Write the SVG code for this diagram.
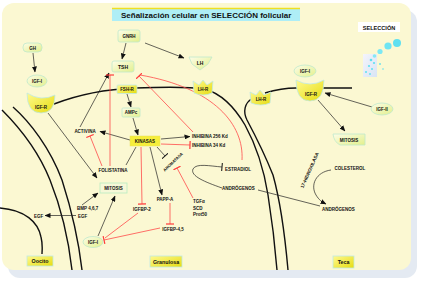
<svg xmlns="http://www.w3.org/2000/svg" width="423" height="285" viewBox="0 0 423 285">
<defs>
<linearGradient id="pale" x1="0" y1="0" x2="1" y2="1"><stop offset="0" stop-color="#fdfde8"/><stop offset="1" stop-color="#e2f08c"/></linearGradient>
<linearGradient id="yel" x1="0" y1="0" x2="1" y2="1"><stop offset="0" stop-color="#fffa90"/><stop offset="1" stop-color="#e6dc10"/></linearGradient>
<linearGradient id="selg" x1="0" y1="0" x2="1" y2="1"><stop offset="0" stop-color="#f4f4fc"/><stop offset="1" stop-color="#d8e4f4"/></linearGradient>
<marker id="arr" markerUnits="userSpaceOnUse" markerWidth="6" markerHeight="5" refX="5.5" refY="2.5" orient="auto"><path d="M0,0 L6,2.5 L0,5 Z" fill="#111"/></marker>
<marker id="tr" markerUnits="userSpaceOnUse" markerWidth="2" markerHeight="8" refX="1" refY="4" orient="auto"><path d="M1,0 L1,8" stroke="#ff3b3b" stroke-width="1.2"/></marker>
<marker id="tk" markerUnits="userSpaceOnUse" markerWidth="2" markerHeight="8" refX="1" refY="4" orient="auto"><path d="M1,0 L1,8" stroke="#111" stroke-width="1"/></marker>
</defs>
<style>
.t{font-family:"Liberation Sans",Arial,sans-serif;font-weight:bold;fill:#111;}
.s{font-size:4.5px;}
.m{text-anchor:middle;}
.pale{fill:url(#pale);stroke:#bfe8cc;stroke-width:0.8;}
.yel{fill:url(#yel);stroke:#bfe8e4;stroke-width:0.8;}
.mem{fill:none;stroke:#111;stroke-width:1.4;}
.k{fill:none;stroke:#222;stroke-width:0.7;}
.r{fill:none;stroke:#ff4a4a;stroke-width:0.8;}
</style>
<rect width="423" height="285" fill="#ffffff"/>
<rect x="8" y="10" width="409" height="268" rx="12" fill="#e4eaf2"/>
<rect x="2" y="3" width="409" height="267" rx="12" fill="#fbf8d2"/>

<!-- title -->
<g id="title">
<rect x="112" y="9" width="188" height="12" fill="#aeeef6"/>
<line x1="112" y1="8.5" x2="300" y2="8.5" stroke="#f0e020" stroke-width="1.4"/>
<text class="t" x="121" y="18.2" font-size="8">Señalización celular en SELECCIÓN folicular</text>
</g>
<g id="seleccion">
<rect x="358" y="22" width="42" height="10" fill="#ffffff"/>
<text class="t m" x="379" y="29.6" font-size="5.6">SELECCIÓN</text>
<rect x="363" y="54" width="14" height="23" fill="url(#selg)"/>
<circle cx="397" cy="43" r="4" fill="#5fe0f0"/>
<circle cx="388" cy="46" r="3.6" fill="#6ee4f2"/>
<circle cx="380" cy="51.5" r="2.6" fill="#7ce8f4"/>
<circle cx="374.5" cy="56" r="1.8" fill="#86e8f4"/>
<circle cx="371" cy="60" r="1.3" fill="#5fe0f0"/>
<circle cx="374" cy="63" r="1.1" fill="#5fe0f0"/>
<circle cx="369" cy="66" r="1.1" fill="#5fe0f0"/>
<circle cx="372" cy="69" r="1" fill="#5fe0f0"/>
<circle cx="366" cy="72" r="1" fill="#5fe0f0"/>
<circle cx="370" cy="74" r="0.9" fill="#5fe0f0"/>
<circle cx="380" cy="64" r="0.9" fill="#5fe0f0"/>
<circle cx="383" cy="69" r="0.8" fill="#5fe0f0"/>
</g>

<!-- membranes -->
<g id="membranes">
<path class="mem" d="M54,104 C80,94 110,89 135,88 C160,87 185,86 205,89 C222,94 235,108 245,125 C256,145 264,170 268,195 C272,220 275,245 277,270"/>
<path class="mem" d="M352,88 L296,88 C285,88 275,90 265,93 M253,98 C244,103 243,112 247,120 C255,135 265,155 273,175 C280,200 284,225 288,270"/>
<path class="mem" d="M2,110 C20,128 38,150 50,180 C60,205 68,235 72,270"/>
<path class="mem" d="M13,107 C30,122 50,148 62,180 C70,205 78,235 82,270"/>
<path class="mem" d="M0,208 C25,210 38,222 41,237 C43,245 42,250 42,254"/>
</g>

<!-- connectors -->
<g id="connectors">
<path class="k" d="M33,53 L35,72" marker-end="url(#arr)"/>
<path class="k" d="M126,43 L122,59" marker-end="url(#arr)"/>
<path class="k" d="M145,43 L184,58" marker-end="url(#arr)"/>
<path class="k" d="M80,127 L109,73" marker-end="url(#arr)"/>
<path class="k" d="M127,94 L131,107" marker-end="url(#arr)"/>
<path class="k" d="M133,118 L138,135" marker-end="url(#arr)"/>
<path class="k" d="M130,140 L100,131.5" marker-end="url(#arr)"/>
<path class="k" d="M161,139 L190,136.5" marker-end="url(#arr)"/>
<path class="k" d="M136,147 L126,165"/>
<path class="k" d="M157,147 L165,156" marker-end="url(#tk)"/>
<path class="k" d="M150,147 L162,195" marker-end="url(#arr)"/>
<path class="k" d="M48,113 L97,178" marker-end="url(#arr)"/>
<path class="k" d="M82,205 L98,193" marker-end="url(#arr)"/>
<path class="k" d="M76,215.5 L45,215.5" marker-end="url(#arr)"/>
<path class="k" d="M98,236 L115,196" marker-end="url(#arr)"/>
<path class="k" d="M222,188 C205,182 190,176 193,169 C196,163 210,166 222,167" marker-end="url(#tk)"/>
<path class="k" d="M320,206 L258,190"/>
<path class="k" d="M331,170 C316,172 310,185 316,195 C319,200 322,202 326,204" marker-end="url(#arr)"/>
<path class="k" d="M372,107 L325,93" marker-end="url(#arr)"/>
<path class="k" d="M318,100 L345,131" marker-end="url(#arr)"/>

<path class="r" d="M110,166 L110,75" marker-end="url(#tr)"/>
<path class="r" d="M193,132 L139,76" marker-end="url(#tr)"/>
<path class="r" d="M242,160 C244,125 215,88 140,75"/>
<path class="r" d="M102,166 L90,136" marker-end="url(#tr)"/>
<path class="r" d="M161,144 L190,145" marker-end="url(#tr)"/>
<path class="r" d="M141,147 L142,204" marker-end="url(#tr)"/>
<path class="r" d="M170,203 L170,224" marker-end="url(#tr)"/>
<path class="r" d="M160,228 L104,240" marker-end="url(#tr)"/>
<path class="r" d="M138,213 L105,238"/>
<path class="r" d="M193,198 L177,168" marker-end="url(#tr)"/>
</g>

<!-- nodes -->
<g id="gh"><rect class="pale" x="23" y="43" width="19" height="9" rx="4"/><text class="t s m" x="32.5" y="49.5">GH</text></g>
<g id="igf1-left"><ellipse class="pale" cx="37" cy="81" rx="10" ry="6"/><text class="t s m" x="37" y="82.7">IGF-I</text></g>
<g id="igfr-left"><path class="yel" d="M27,93 Q27,113 41,113 Q55,113 55,95 Q41,102 27,93 Z"/><text class="t s m" x="41" y="108.5">IGF-R</text></g>
<g id="gnrh"><rect class="pale" x="118" y="30" width="22" height="12" rx="2"/><text class="t s m" x="129" y="37.8">GNRH</text></g>
<g id="tsh"><rect class="pale" x="112" y="61" width="22" height="11" rx="2"/><text class="t m" x="123" y="68.5" font-size="5">TSH</text></g>
<g id="lh"><path class="pale" d="M189,57 L212,57 L208,64 L200,70 L192,64 Z"/><text class="t m" x="200" y="64.5" font-size="5">LH</text></g>
<g id="fshr"><rect class="yel" x="117" y="85" width="20" height="8.5" rx="1"/><text class="t s m" x="127" y="91">FSH-R</text></g>
<g id="lhr-gran"><path class="yel" d="M193,81 L199,85 L203,80 L207,85 L213,81 L212,93 Q203,97 194,93 Z"/><text class="t s m" x="203" y="91">LH-R</text></g>
<g id="ampc"><rect class="pale" x="122" y="108" width="18" height="9" rx="1"/><text class="t s m" x="131" y="114.3">AMPc</text></g>
<g id="activina"><text class="t s m" x="85" y="133">ACTIVINA</text></g>
<g id="kinasas"><rect x="130" y="136" width="30" height="10" fill="#f6ee3a" stroke="#e8e060" stroke-width="0.5"/><text class="t s m" x="145" y="142.8">KINASAS</text></g>
<g id="inhibina256"><text class="t s" x="192" y="138">INHIBINA 256 Kd</text></g>
<g id="inhibina34"><text class="t s" x="192" y="147">INHIBINA 34 Kd</text></g>
<g id="aromatasa"><text class="t m" font-size="4" transform="translate(174,163) rotate(-44)">AROMATASA</text></g>
<g id="estradiol"><text class="t s" x="225" y="170.5">ESTRADIOL</text></g>
<g id="androgenos-gran"><text class="t s" x="222" y="190">ANDRÓGENOS</text></g>
<g id="folistatina"><text class="t s m" x="113" y="172">FOLISTATINA</text></g>
<g id="mitosis-left"><rect x="100" y="183" width="27" height="10" fill="#f6f8d8" stroke="#b8ecc0" stroke-width="0.8"/><text class="t s m" x="113.5" y="190">MITOSIS</text></g>
<g id="bmp"><text class="t s" x="77" y="210">BMP 4,6,7</text><text class="t s" x="78" y="217.5">EGF</text></g>
<g id="egf"><text class="t s" x="34" y="217.5">EGF</text></g>
<g id="igfbp2"><text class="t s m" x="142" y="210.5">IGFBP-2</text></g>
<g id="pappa"><text class="t s m" x="165" y="201">PAPP-A</text></g>
<g id="igfbp45"><text class="t s m" x="173" y="230.5">IGFBP-4,5</text></g>
<g id="tgfa"><text class="t s" x="193" y="203">TGFα</text><text class="t s" x="193" y="209.5">SCD</text><text class="t s" x="193" y="216">Prot50</text></g>
<g id="igf1-bottom"><ellipse class="pale" cx="93" cy="242" rx="10" ry="5.5"/><text class="t s m" x="93" y="243.7">IGF-I</text></g>
<g id="oocito"><rect class="yel" x="27" y="256" width="26" height="10"/><text class="t m" x="40" y="263" font-size="5.3">Oocito</text></g>
<g id="granulosa"><rect class="yel" x="150" y="256" width="32" height="11"/><text class="t m" x="166" y="263.5" font-size="5.3">Granulosa</text></g>
<g id="teca"><rect class="yel" x="333" y="256" width="21" height="12"/><text class="t m" x="343.5" y="264" font-size="5.3">Teca</text></g>
<g id="lhr-teca"><path class="yel" d="M250,92 L256,95 L260,90 L264,95 L271,92 L270,103 Q261,107 251,103 Z"/><text class="t s m" x="261" y="101">LH-R</text></g>
<g id="igf1-right"><ellipse class="pale" cx="305" cy="71" rx="11" ry="6"/><text class="t s m" x="305" y="72.7">IGF-I</text></g>
<g id="igfr-right"><path class="yel" d="M296,80 Q296,101 310,101 Q324,101 324,80 Q310,88 296,80 Z"/><text class="t s m" x="311" y="95.5">IGF-R</text></g>
<g id="igf2"><ellipse class="pale" cx="382" cy="109" rx="11" ry="6"/><text class="t s m" x="382" y="110.7">IGF-II</text></g>
<g id="mitosis-right"><path class="pale" d="M333,134 L365,134 L365,145 L340,145 Q334,142 333,134 Z"/><text class="t s m" x="349" y="141.5">MITOSIS</text></g>
<g id="colesterol"><text class="t s m" x="350" y="170">COLESTEROL</text></g>
<g id="hidroxilasa"><text class="t m" font-size="4.6" transform="translate(311,171) rotate(-66)">17-HIDROXILASA</text></g>
<g id="androgenos-teca"><text class="t s m" x="338.5" y="210.5">ANDRÓGENOS</text></g>
</svg>
